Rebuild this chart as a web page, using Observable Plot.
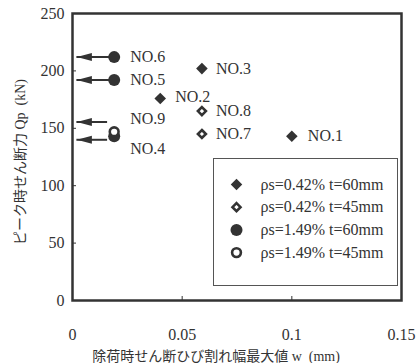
<!DOCTYPE html>
<html><head><meta charset="utf-8">
<script src="https://cdn.jsdelivr.net/npm/d3@7"></script>
<script src="https://cdn.jsdelivr.net/npm/@observablehq/plot@0.6"></script>
<style>
html,body{margin:0;padding:0;background:#fff;}
</style></head><body><div id="chart"></div>
<script>
// ---- data ----
const names = ["NO.1","NO.2","NO.3","NO.4","NO.5","NO.6","NO.7","NO.8","NO.9"];
const crackWidth = [0.100, 0.040, 0.059, 0.019, 0.019, 0.019, 0.059, 0.059, 0.019];
const peakShear = [143, 176, 202, 143, 192, 212, 145, 165, 147];
const seriesOf = ["ρs=0.42% t=60mm","ρs=0.42% t=60mm","ρs=0.42% t=60mm",
                  "ρs=1.49% t=60mm","ρs=1.49% t=60mm","ρs=1.49% t=60mm",
                  "ρs=0.42% t=45mm","ρs=0.42% t=45mm","ρs=1.49% t=45mm"];
const seriesNames = ["ρs=0.42% t=60mm","ρs=0.42% t=45mm","ρs=1.49% t=60mm","ρs=1.49% t=45mm"];
const arrowShear = [212, 192, 155.5, 140];
const arrowFrom = [0.019, 0.019, 0.016, 0.016];
const arrowTo = [0.002, 0.002, 0.002, 0.002];
const xTicks = [0, 0.05, 0.1, 0.15];
const yTicks = [0, 50, 100, 150, 200, 250];
const xLabel = "除荷時せん断ひび割れ幅最大値 w\u00a0 (mm)";
const yLabel = "ピーク時せん断力 Qp\u00a0 (kN)";

// ---- styling / layout ----
const ink = "#333";
const seriesStyle = {
  "ρs=0.42% t=60mm": {symbol: "diamond2", r: 5.2, fill: ink, stroke: "none", strokeWidth: 0},
  "ρs=0.42% t=45mm": {symbol: "diamond2", r: 3.6, fill: "white", stroke: ink, strokeWidth: 2.6},
  "ρs=1.49% t=60mm": {symbol: "circle", r: 6, fill: ink, stroke: "none", strokeWidth: 0},
  "ρs=1.49% t=45mm": {symbol: "circle", r: 4.4, fill: "white", stroke: ink, strokeWidth: 2.6}
};
const labelOffset = {
  "NO.1": [16, 0], "NO.2": [15, -2], "NO.3": [14, 0], "NO.4": [16, 13], "NO.5": [16, 0],
  "NO.6": [16, 0], "NO.7": [14, 0], "NO.8": [14, 0], "NO.9": [16, -13]
};
const points = names.map((n, i) => ({name: n, w: crackWidth[i], q: peakShear[i], s: seriesOf[i]}));
const arrows = arrowShear.map((q, i) => ({q, from: arrowFrom[i], to: arrowTo[i]}));
const arrowHead = {draw(ctx) { ctx.moveTo(0, 0); ctx.lineTo(15, -4); ctx.lineTo(15, 4); ctx.closePath(); }};
const serif = "'Liberation Serif', 'Times New Roman', 'Noto Sans CJK JP', serif";
const drawOrder = ["ρs=0.42% t=60mm", "ρs=1.49% t=60mm", "ρs=0.42% t=45mm", "ρs=1.49% t=45mm"];

const marks = [
  Plot.frame({stroke: ink, strokeWidth: 2.5}),
  Plot.axisX(xTicks, {tickSize: -4, tickPadding: 32, tickFormat: d => String(d), fontSize: 16, fontFamily: serif, fill: ink, stroke: ink, label: null}),
  Plot.axisY(yTicks, {tickSize: -4, tickPadding: 12, fontSize: 16, fontFamily: serif, fill: ink, stroke: ink, label: null}),
  Plot.ruleY(arrows, {y: "q", x1: "from", x2: "to", stroke: ink, strokeWidth: 2}),
  Plot.dot(arrows, {x: "to", y: "q", symbol: arrowHead, fill: ink, stroke: "none", r: 5}),
  ...drawOrder.map(s => Plot.dot(points.filter(p => p.s === s), {x: "w", y: "q", ...seriesStyle[s]})),
  ...points.map(p => Plot.text([p], {x: "w", y: "q", text: "name", textAnchor: "start",
      dx: labelOffset[p.name][0], dy: labelOffset[p.name][1], fontSize: 16, fontFamily: serif, fill: ink})),
  Plot.frame({insetLeft: 141, insetRight: 4, insetTop: 145, insetBottom: 15, stroke: "#555", strokeWidth: 1}),
  ...seriesNames.map((s, i) => Plot.dot([s], {frameAnchor: "top-left", dx: 164, dy: 171 + i * 22.7, ...seriesStyle[s]})),
  ...seriesNames.map((s, i) => Plot.text([s], {frameAnchor: "top-left", dx: 188, dy: 171 + i * 22.7, text: d => d,
      textAnchor: "start", lineAnchor: "middle", fontSize: 16, fontFamily: serif, fill: ink})),
  Plot.text([yLabel], {frameAnchor: "left", dx: -52, dy: 5, rotate: -90, text: d => d, textAnchor: "middle", lineAnchor: "middle",
      fontSize: 14, fontFamily: serif, fill: ink}),
  Plot.text([xLabel], {frameAnchor: "bottom", dx: -21, dy: 56, text: d => d, textAnchor: "middle", lineAnchor: "middle",
      fontSize: 14, fontFamily: serif, fill: ink})
];

const chart = Plot.plot({
  width: 419, height: 363,
  marginLeft: 72, marginRight: 18, marginTop: 13, marginBottom: 63,
  x: {domain: [0, 0.15], axis: null},
  y: {domain: [0, 250], axis: null},
  style: {background: "white", fontFamily: serif, color: ink},
  marks
});
document.getElementById("chart").appendChild(chart);
</script></body></html>
